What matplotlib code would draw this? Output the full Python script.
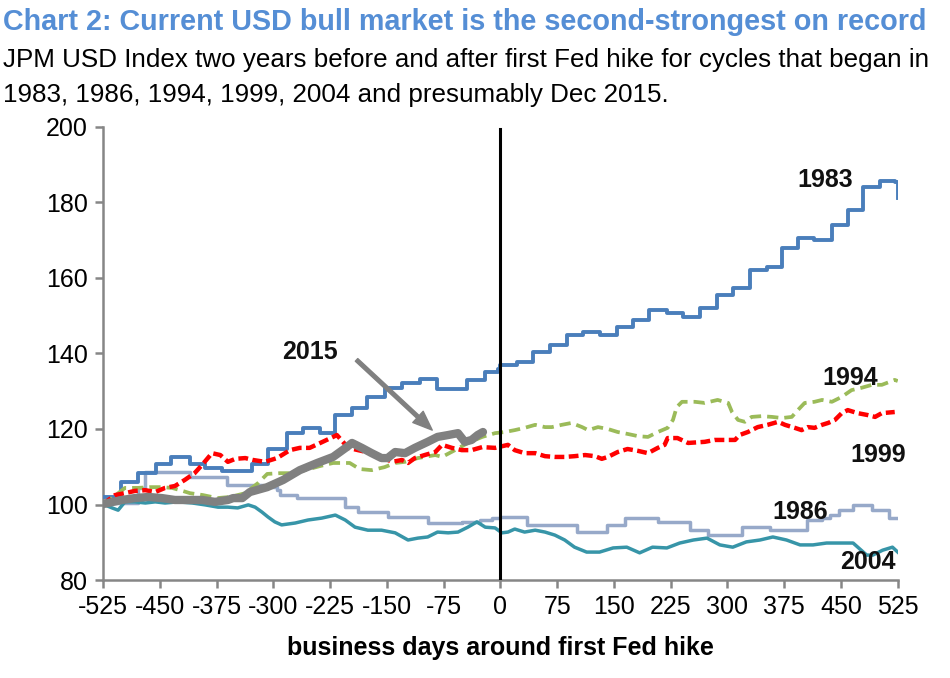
import matplotlib
matplotlib.use('Agg')
import matplotlib.pyplot as plt

plt.rcParams['font.family'] = ['Liberation Sans Narrow', 'Liberation Sans', 'DejaVu Sans']

# JPM USD index, business days around first Fed hike
d1983 = [-525, -501, -479, -455, -435, -410, -390, -368, -328, -307, -282, -261, -238, -218,
         -196, -176, -153, -130, -106, -84, -44, -20, -3, 0, 22, 43, 65, 88, 109, 131, 154,
         175, 197, 220, 241, 264, 286, 307, 330, 352, 372, 393, 415, 438, 459, 479, 501, 521, 525]
v1983 = [102.0, 106.0, 108.3, 110.7, 112.6, 110.7, 109.7, 108.9, 110.7, 114.7, 118.9, 120.3,
         118.9, 123.7, 125.6, 128.5, 130.9, 132.2, 133.2, 130.6, 133.0, 135.1, 135.9, 137.0,
         137.7, 140.4, 142.3, 144.9, 145.7, 144.9, 147.0, 148.9, 151.5, 150.7, 149.7, 152.1,
         155.5, 157.4, 162.1, 162.9, 167.9, 170.6, 170.1, 174.0, 178.0, 184.1, 185.7, 185.4, 181.2]

d1986 = [-525, -479, -469, -410, -361, -314, -295, -291, -269, -205, -188, -149, -96, -51,
         -27, -11, 0, 35, 101, 141, 164, 208, 250, 274, 319, 356, 405, 425, 435, 448, 466,
         491, 514, 525]
v1986 = [100.5, 104.4, 108.6, 107.3, 105.2, 104.6, 103.8, 102.5, 101.7, 99.3, 98.0, 96.7,
         95.1, 95.4, 95.9, 96.4, 96.7, 94.6, 92.7, 94.6, 96.4, 95.4, 93.2, 91.9, 94.0, 93.2,
         95.9, 96.4, 97.2, 98.5, 99.9, 98.5, 96.4, 96.4]

d1994 = [-525, -513, -496, -479, -463, -447, -434, -423, -410, -393, -374, -357, -337, -320,
         -308, -291, -278, -258, -238, -221, -199, -186, -170, -153, -139, -126, -109, -86,
         -77, -60, -43, -24, -7, 6, 19, 32, 46, 59, 68, 81, 94, 108, 116, 129, 142, 155, 168,
         182, 195, 208, 221, 228, 233, 240, 257, 270, 287, 301, 306, 314, 323, 332, 345, 359,
         372, 385, 393, 402, 415, 425, 438, 451, 464, 477, 491, 504, 521, 525]
v1994 = [100.1, 101.7, 104.4, 104.4, 104.6, 104.6, 104.4, 103.8, 103.0, 102.5, 101.7, 102.0,
         103.0, 105.7, 108.1, 108.3, 108.3, 109.1, 110.2, 111.0, 111.0, 109.4, 109.1, 109.9,
         111.0, 111.3, 112.3, 113.1, 112.6, 114.4, 116.3, 117.9, 118.9, 119.2, 119.7, 120.3,
         121.1, 120.5, 120.5, 121.1, 121.6, 120.5, 119.7, 120.5, 120.0, 119.2, 118.7, 118.1,
         117.9, 119.2, 120.3, 122.4, 125.8, 127.2, 127.2, 126.9, 127.7, 126.9, 124.5, 122.4,
         121.9, 123.2, 123.4, 123.2, 122.9, 123.2, 125.0, 126.9, 127.2, 127.7, 127.2, 128.5,
         130.3, 130.9, 131.7, 131.7, 133.0, 132.7]

d1999 = [-525, -509, -496, -483, -469, -456, -443, -430, -417, -404, -394, -381, -370, -360,
         -350, -337, -327, -311, -295, -278, -265, -252, -238, -221, -216, -208, -201, -188,
         -170, -157, -143, -130, -122, -113, -100, -86, -77, -64, -51, -38, -24, -7, 10, 19,
         32, 46, 59, 72, 85, 98, 112, 125, 134, 142, 155, 168, 182, 195, 208, 217, 221, 234,
         248, 270, 283, 310, 316, 327, 340, 353, 367, 376, 389, 398, 406, 415, 425, 433, 442,
         451, 459, 472, 485, 495, 504, 521]
v1999 = [100.1, 102.5, 103.0, 103.6, 103.8, 103.3, 104.4, 104.9, 106.5, 108.3, 110.5, 113.6,
         113.1, 111.3, 112.1, 112.3, 111.8, 111.3, 112.3, 114.4, 115.0, 115.0, 116.3, 117.9,
         118.4, 116.6, 115.0, 114.4, 113.6, 112.6, 111.3, 111.8, 111.0, 112.3, 113.1, 113.9,
         115.8, 115.0, 114.4, 114.4, 115.2, 115.0, 115.8, 114.4, 113.6, 113.6, 112.8, 112.6,
         112.6, 112.8, 113.1, 112.8, 112.1, 112.6, 113.9, 114.7, 114.2, 113.6, 115.0, 115.8,
         117.6, 117.6, 116.3, 116.6, 117.1, 117.1, 118.4, 119.2, 120.5, 121.1, 121.9, 121.1,
         120.3, 119.7, 120.5, 120.3, 121.1, 121.6, 122.4, 124.2, 125.0, 124.2, 123.7, 123.2,
         124.2, 124.5]

d2004 = [-525, -513, -505, -496, -483, -469, -456, -443, -426, -407, -390, -373, -360, -347,
         -333, -324, -315, -307, -298, -289, -271, -254, -236, -218, -205, -192, -175, -157,
         -139, -122, -109, -96, -83, -69, -56, -43, -31, -20, -7, 2, 10, 19, 32, 46, 59, 72,
         85, 98, 114, 131, 149, 167, 184, 201, 220, 237, 255, 273, 290, 307, 325, 343, 360,
         378, 396, 413, 431, 466, 484, 492, 505, 518, 525]
v2004 = [100.1, 99.1, 98.5, 100.7, 100.7, 100.4, 100.7, 100.4, 100.7, 100.4, 99.9, 99.3, 99.3,
         99.1, 99.9, 99.3, 98.0, 96.7, 95.4, 94.6, 95.1, 95.9, 96.4, 97.2, 95.9, 94.0, 93.2,
         93.2, 92.5, 90.6, 91.1, 91.4, 92.7, 92.5, 92.7, 94.0, 95.4, 94.0, 93.8, 92.5, 92.7,
         93.5, 92.7, 93.2, 92.7, 91.9, 90.6, 88.7, 87.4, 87.4, 88.5, 88.7, 87.2, 88.7, 88.5,
         89.8, 90.6, 91.1, 89.3, 88.7, 90.1, 90.6, 91.4, 90.6, 89.3, 89.3, 89.8, 89.8, 86.6,
         86.6, 87.9, 88.7, 87.4]

d2015 = [-525, -500, -483, -465, -447, -430, -413, -394, -377, -360, -353, -341, -331, -308,
         -287, -265, -242, -221, -203, -196, -183, -170, -157, -149, -139, -126, -113, -96,
         -83, -69, -56, -47, -38, -30, -23]
v2015 = [100.1, 101.2, 101.7, 102.0, 101.7, 101.2, 101.2, 101.2, 100.7, 101.2, 101.7, 101.7,
         103.3, 104.6, 106.5, 109.1, 111.0, 112.6, 115.2, 116.3, 115.0, 113.6, 112.3, 112.3,
         113.9, 113.6, 115.0, 116.6, 117.9, 118.4, 118.9, 116.6, 117.1, 118.4, 119.2]

xticks = list(range(-525, 526, 75))
yticks = [80, 100, 120, 140, 160, 180, 200]

grey = '#868686'

fig = plt.figure(figsize=(9.5, 6.78), dpi=100)
ax = fig.add_axes([0.1084, 0.1445, 0.8366, 0.6683])

ax.plot(d1986, v1986, color='#97A9C9', lw=2.5, drawstyle='steps-post', zorder=2)
ax.plot(d2004, v2004, color='#3795A8', lw=2.5, zorder=2)
ax.plot(d1983, v1983, color='#4A7EBB', lw=2.8, drawstyle='steps-post', zorder=3)
ax.plot(d1994, v1994, color='#9BBB59', lw=2.7, dashes=(3, 1.6), zorder=3)
ax.plot(d1999, v1999, color='#FF0000', lw=3.2, dashes=(2.2, 1.0), zorder=3)
ax.plot(d2015, v2015, color='#808080', lw=6.0, solid_capstyle='round',
        solid_joinstyle='round', zorder=4)

ax.axvline(0, ymin=0, ymax=0.995, color='black', lw=2.2, zorder=5)

ax.set_xlim(-525, 525)
ax.set_ylim(80, 200)
ax.set_xticks(xticks)
ax.set_yticks(yticks)
ax.set_xticklabels([str(t) for t in xticks])
for s in ['top', 'right']:
    ax.spines[s].set_visible(False)
for s in ['left', 'bottom']:
    ax.spines[s].set_color(grey)
    ax.spines[s].set_linewidth(1.8)
ax.tick_params(axis='both', direction='out', color=grey, width=1.8, length=6,
               labelsize=18, pad=5)
ax.set_xlabel('business days around first Fed hike', fontsize=18, fontweight='bold',
              labelpad=12)

lab = dict(fontsize=18, fontweight='bold', ha='center', va='center', color='#111111')
ax.text(429, 186.0, '1983', **lab)
ax.text(462, 133.5, '1994', **lab)
ax.text(499, 113.0, '1999', **lab)
ax.text(396, 98.0, '1986', **lab)
ax.text(486, 84.8, '2004', **lab)
ax.text(-252, 140.4, '2015', **lab)
ax.annotate('', xy=(-90, 119.7), xytext=(-190, 138.3),
            arrowprops=dict(facecolor='#808080', edgecolor='#808080', width=2.6,
                            headwidth=11, headlength=14, shrinkA=0, shrinkB=0))

fig.text(0.003, 0.967, 'Chart 2: Current USD bull market is the second-strongest on record',
         fontsize=20.7, fontweight='bold', color='#558ED5', ha='left', va='center')
fig.text(0.003, 0.911, 'JPM USD Index two years before and after first Fed hike for cycles that began in',
         fontsize=18.7, ha='left', va='center')
fig.text(0.003, 0.86, '1983, 1986, 1994, 1999, 2004 and presumably Dec 2015.',
         fontsize=18.7, ha='left', va='center')

fig.savefig('out.png', dpi=100)
